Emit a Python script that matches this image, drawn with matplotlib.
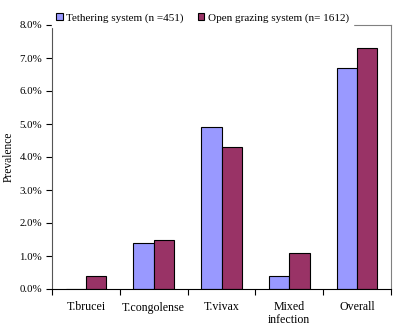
import matplotlib
matplotlib.use("Agg")
import matplotlib.pyplot as plt
import numpy as np
from matplotlib.ticker import FuncFormatter

categories = ["T.brucei", "T.congolense", "T.vivax", "Mixed\ninfection", "Overall"]
tethering = [0.0, 1.4, 4.9, 0.4, 6.7]
open_grazing = [0.4, 1.5, 4.3, 1.1, 7.3]
series_labels = ["Tethering system (n =451)", "Open grazing system (n= 1612)"]

plt.rcParams["font.family"] = ["Liberation Serif", "DejaVu Serif"]
plt.rcParams["font.size"] = 8.5

fig = plt.figure(figsize=(3.98, 3.31), dpi=100)
ax = fig.add_axes([52 / 398, 42 / 331, 339 / 398, 264 / 331])

x = np.arange(len(categories))
w = 0.3
ax.bar(x - w / 2, tethering, w, color="#9999FF", edgecolor="black", linewidth=0.8,
       label=series_labels[0])
ax.bar(x + w / 2, open_grazing, w, color="#993366", edgecolor="black", linewidth=0.8,
       label=series_labels[1])

ax.set_xlim(-0.5, len(categories) - 0.5)
ax.set_ylim(0, 8)
ax.set_yticks(np.arange(0, 8.01, 1))
ax.yaxis.set_major_formatter(FuncFormatter(lambda v, p: f"{v:.1f}%"))
ax.set_xticks(x)
ax.set_xticklabels(categories, linespacing=1.1)
ax.set_xticks(np.arange(-0.5, len(categories), 1), minor=True)
ax.tick_params(axis="x", which="major", length=0, pad=9, labelsize=8.6)
ax.tick_params(axis="x", which="minor", length=4, width=0.8, direction="out")
ax.tick_params(axis="y", length=4, width=0.8, direction="out", pad=3, labelsize=7.8)
ax.set_ylabel("Prevalence", fontsize=8.3)
ax.yaxis.set_label_coords(-0.11, 0.5)

ax.spines["left"].set_color("#555555")
ax.spines["bottom"].set_color("black")
for s in ("top", "right"):
    ax.spines[s].set_color("#808080")
for s in ax.spines.values():
    s.set_linewidth(0.8)

leg = ax.legend(loc="upper left", bbox_to_anchor=(0.0, 1.06), ncol=2, frameon=True,
                fancybox=False, edgecolor="white", facecolor="white", framealpha=1,
                fontsize=8.0, handlelength=0.6, handleheight=0.6, handletextpad=0.3,
                columnspacing=1.3, borderpad=0.35, borderaxespad=0)
leg.set_zorder(5)

fig.savefig("out.png", dpi=100)
